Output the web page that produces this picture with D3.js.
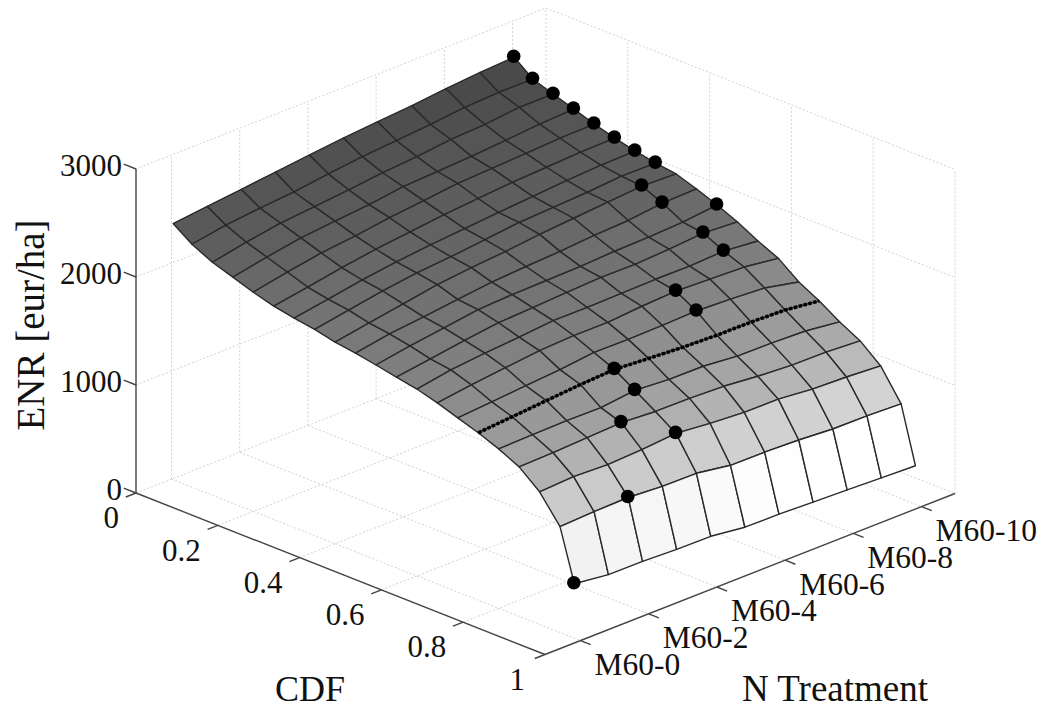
<!DOCTYPE html>
<html>
<head>
<meta charset="utf-8">
<script src="https://cdn.jsdelivr.net/npm/d3@7"></script>
<style>html,body{margin:0;padding:0;background:#fff}svg{display:block}text{font-family:"Liberation Serif",serif;fill:#111}</style>
</head>
<body>
<svg id="c" width="1041" height="709"></svg>
<script>
const cdfLevels = [0.004,0.05,0.1,0.15,0.2,0.25,0.3,0.35,0.4,0.45,0.5,0.55,0.6,0.65,0.7,0.75,0.8,0.85,0.9,0.95,0.985];
const treatments = [0,1,2,3,4,5,6,7,8,9,10];
const enr = [
[2372,2408,2441,2477,2511,2545,2571,2595,2630,2655,2672],
[2249,2302,2336,2361,2405,2440,2465,2490,2524,2540,2537],
[2157,2219,2272,2300,2332,2366,2391,2426,2441,2476,2473],
[2094,2156,2209,2240,2269,2312,2328,2344,2369,2394,2410],
[2029,2092,2145,2179,2223,2257,2292,2308,2323,2339,2346],
[1975,2028,2083,2130,2167,2202,2228,2253,2269,2284,2291],
[1938,1991,2044,2088,2122,2148,2173,2198,2223,2239,2245],
[1910,1964,2017,2061,2086,2121,2155,2171,2187,2212,2209],
[1867,1920,1973,2026,2060,2085,2120,2145,2170,2195,2183],
[1840,1893,1927,1965,2000,2021,2037,2062,2075,2112,2119],
[1804,1857,1900,1944,1960,1966,1973,1989,1995,2011,2045],
[1767,1811,1858,1898,1914,1930,1946,1943,1959,1984,1963],
[1731,1784,1815,1840,1869,1866,1872,1879,1876,1892,1861],
[1677,1721,1755,1790,1805,1803,1828,1844,1831,1819,1775],
[1613,1638,1663,1688,1723,1720,1726,1735,1720,1700,1631],
[1550,1575,1600,1625,1641,1619,1598,1586,1583,1571,1531],
[1476,1483,1489,1486,1521,1499,1497,1466,1463,1451,1411],
[1384,1391,1406,1422,1401,1398,1386,1355,1334,1331,1310],
[1228,1244,1232,1247,1273,1242,1220,1218,1187,1175,1153],
[980,995,1002,981,978,928,926,914,892,889,877],
[504,464,462,450,447,407,404,392,380,368,356]
];
const bestTreatment = [10,10,10,10,10,10,10,10,9,9,10,9,9,7,7,4,4,3,4,2,0];
const dashedRow = 15;
const zTicks = [0,1000,2000,3000];
const cdfTicks = [0,0.2,0.4,0.6,0.8,1];
const cdfTickLabels = ["0","0.2","0.4","0.6","0.8","1"];
const nTicks = [0,2,4,6,8,10];
const nTickLabels = ["M60-0","M60-2","M60-4","M60-6","M60-8","M60-10"];

const nMin=-1.04, nMax=10.98, zMax=3000;
const cx=d3.scaleLinear([0,1],[136,545]), cy=d3.scaleLinear([0,1],[493,654.5]);
const nx=d3.scaleLinear([nMin,nMax],[0,410]), ny=d3.scaleLinear([nMin,nMax],[0,-161]);
const zy=d3.scaleLinear([0,zMax],[0,-324]);
const P=(c,n,z)=>[cx(c)+nx(n), cy(c)+ny(n)+zy(z)];
const gray=d3.scaleLinear([390,487,980,1490,2157,2540],[255,242,204,153,96,74]).clamp(true);
const svg=d3.select("#c");
const line=d3.line();

// grid
const g=svg.append("g").attr("fill","none").attr("stroke","#d2d2d2").attr("stroke-width",1).attr("stroke-dasharray","2 2");
const seg=(a,b)=>g.append("path").attr("d",line([a,b]));
zTicks.forEach(z=>{ if(z>0) seg(P(0,nMin,z),P(0,nMax,z)); seg(P(0,nMax,z),P(1,nMax,z)); });
nTicks.forEach(n=>{ seg(P(0,n,0),P(0,n,zMax)); seg(P(0,n,0),P(1,n,0)); });
seg(P(0,nMax,0),P(0,nMax,zMax));
cdfTicks.forEach(c=>{ if(c>0) seg(P(c,nMax,0),P(c,nMax,zMax)); if(c>0&&c<1) seg(P(c,nMin,0),P(c,nMax,0)); });
seg(P(0,nMin,0),P(0,nMax,0));

// axes
const a=svg.append("g").attr("fill","none").attr("stroke","#444").attr("stroke-width",1.4);
const aseg=(p,q)=>a.append("path").attr("d",line([p,q]));
aseg(P(0,nMin,0),P(1,nMin,0));
aseg(P(1,nMin,0),P(1,nMax,0));
aseg(P(0,nMin,0),P(0,nMin,zMax));
zTicks.forEach(z=>aseg(P(0,nMin,z),P(-0.03,nMin,z)));
cdfTicks.forEach(c=>aseg(P(c,nMin,0),P(c,nMin-0.3,0)));
nTicks.forEach(n=>aseg(P(1,n,0),P(1.025,n,0)));

// surface
const s=svg.append("g").attr("stroke","#2a2a2a").attr("stroke-width",1.4).attr("stroke-linejoin","round");
d3.range(cdfLevels.length-1).forEach(i=>{
  d3.range(treatments.length-1).forEach(j=>{
    const pts=[[i,j],[i,j+1],[i+1,j+1],[i+1,j]].map(([r,k])=>P(cdfLevels[r],treatments[k],enr[r][k]));
    const v=Math.round(gray((enr[i+1][j]+enr[i+1][j+1])/2));
    s.append("path").attr("d",line(pts)+"Z").attr("fill",`rgb(${v},${v},${v})`);
  });
});
// dashed row
svg.append("path").attr("d",line(treatments.map((n,k)=>P(cdfLevels[dashedRow],n,enr[dashedRow][k]))))
  .attr("fill","none").attr("stroke","#000").attr("stroke-width",3.5).attr("stroke-dasharray","3.5 1.5");
// dots
svg.append("g").selectAll("circle").data(bestTreatment).join("circle")
  .attr("cx",(n,i)=>P(cdfLevels[i],n,enr[i][n])[0]-0.5).attr("cy",(n,i)=>P(cdfLevels[i],n,enr[i][n])[1]-1).attr("r",6.8).attr("fill","#000");

// labels
const T=svg.append("g").attr("font-size",31);
zTicks.forEach(z=>{const p=P(0,nMin,z);T.append("text").attr("x",p[0]-14).attr("y",p[1]-3).attr("dy","0.33em").attr("text-anchor","end").text(z);});
cdfTicks.forEach((c,i)=>{const p=P(c,nMin,0);T.append("text").attr("x",p[0]-(c==1?20:17)).attr("y",p[1]+25).attr("dy","0.33em").attr("text-anchor","end").text(cdfTickLabels[i]);});
nTicks.forEach((n,i)=>{const p=P(1,n,0);T.append("text").attr("x",p[0]+14).attr("y",p[1]+24).attr("dy","0.33em").attr("font-size",31.5).text(nTickLabels[i]);});
const L=svg.append("g").attr("font-size",36);
L.append("text").attr("x",310).attr("y",701).attr("text-anchor","middle").text("CDF");
L.append("text").attr("x",835).attr("y",701).attr("text-anchor","middle").attr("font-size",37).text("N Treatment");
L.append("text").attr("transform","translate(44,325) rotate(-90)").attr("text-anchor","middle").attr("font-size",39).text("ENR [eur/ha]");
</script>
</body>
</html>
